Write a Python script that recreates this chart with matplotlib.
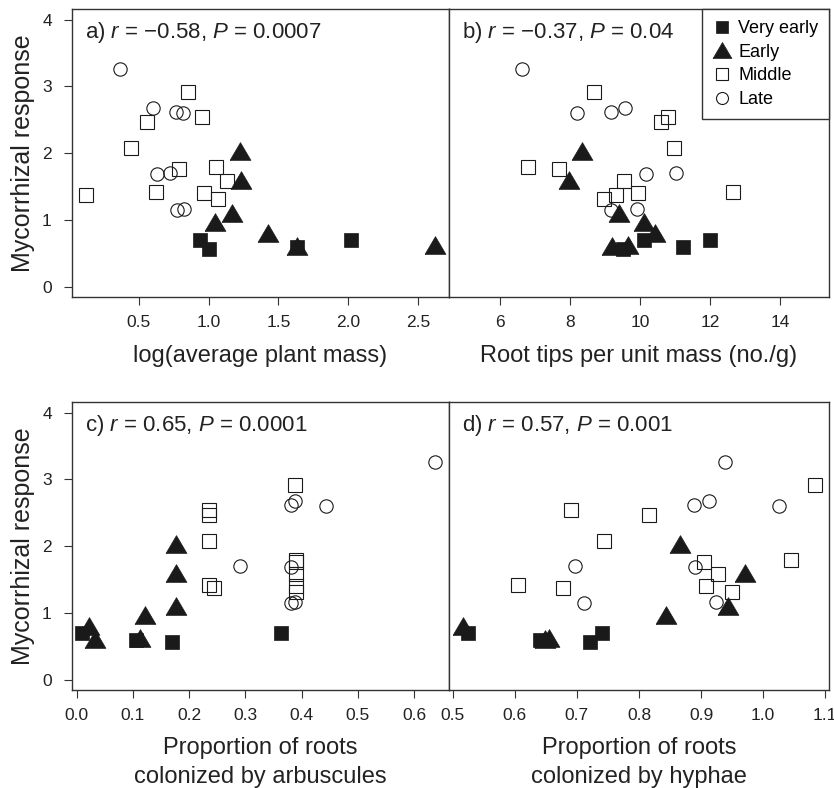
import matplotlib
matplotlib.use('Agg')
import matplotlib.pyplot as plt
from matplotlib.lines import Line2D
from matplotlib.ticker import FormatStrFormatter

plt.rcParams['font.family'] = ['Liberation Sans', 'DejaVu Sans']
plt.rcParams['mathtext.fontset'] = 'custom'
plt.rcParams['mathtext.rm'] = 'Liberation Sans'
plt.rcParams['mathtext.it'] = 'Liberation Sans:italic'

# mycorrhizal response (same for all four panels)
very_early_y = [0.70, 0.70, 0.60, 0.57]
early_y = [2.03, 1.60, 1.10, 0.97, 0.80, 0.61, 0.62]
middle_y = [2.91, 2.54, 2.46, 2.07, 1.80, 1.76, 1.58, 1.42, 1.40, 1.38, 1.32]
late_y = [3.26, 2.68, 2.61, 2.60, 1.71, 1.69, 1.17, 1.15]

# a) log(average plant mass)
very_early_mass = [0.94, 2.02, 1.63, 1.00]
early_mass = [1.224, 1.233, 1.169, 1.045, 1.426, 1.636, 2.621]
middle_mass = [0.85, 0.952, 0.559, 0.443, 1.05, 0.788, 1.131, 0.624, 0.969, 0.124, 1.069]
late_mass = [0.366, 0.605, 0.769, 0.817, 0.721, 0.631, 0.826, 0.774]

# b) root tips per unit mass
very_early_tips = [10.12, 12.0, 11.23, 9.5]
early_tips = [8.35, 7.97, 9.40, 10.11, 10.44, 9.19, 9.65]
middle_tips = [8.69, 10.81, 10.61, 10.98, 6.80, 7.68, 9.55, 12.65, 9.94, 9.31, 8.97]
late_tips = [6.62, 9.57, 9.16, 8.21, 11.02, 10.16, 9.91, 9.16]

# c) proportion colonized by arbuscules
very_early_arb = [0.010, 0.364, 0.105, 0.170]
early_arb = [0.176, 0.176, 0.176, 0.122, 0.023, 0.032, 0.112]
middle_arb = [0.388, 0.235, 0.235, 0.235, 0.390, 0.390, 0.390, 0.235, 0.390, 0.244, 0.390]
late_arb = [0.637, 0.388, 0.381, 0.444, 0.291, 0.381, 0.388, 0.381]

# d) proportion colonized by hyphae
very_early_hyph = [0.525, 0.740, 0.640, 0.721]
early_hyph = [0.866, 0.971, 0.944, 0.843, 0.517, 0.648, 0.655]
middle_hyph = [1.084, 0.690, 0.816, 0.743, 1.045, 0.904, 0.927, 0.605, 0.908, 0.677, 0.950]
late_hyph = [0.939, 0.913, 0.888, 1.025, 0.697, 0.890, 0.924, 0.711]

groups = ['Very early', 'Early', 'Middle', 'Late']
ys = [very_early_y, early_y, middle_y, late_y]

tri = [(-1, -0.85), (1, -0.85), (0, 0.85), (-1, -0.85)]
ink = '#1a1a1a'
styles = {
    'Very early': dict(marker='s', ms=9.7, mfc=ink, mec=ink, mew=0.5),
    'Early': dict(marker=tri, ms=15, mfc=ink, mec=ink, mew=0.5),
    'Middle': dict(marker='s', ms=9.5, mfc='none', mec=ink, mew=0.8),
    'Late': dict(marker='o', ms=9.6, mfc='none', mec=ink, mew=0.8),
}


def draw_panel(ax, xdata, xlim, xticks, xlabel, note, left, xpad):
    for g, xs, yv in zip(groups, xdata, ys):
        ax.plot(xs, yv, linestyle='none', **styles[g])
    ax.set_xlim(*xlim)
    ax.set_ylim(-0.155, 4.16)
    ax.set_xticks(xticks)
    ax.xaxis.set_major_formatter(FormatStrFormatter('%.1f' if xticks[1] - xticks[0] < 1 else '%d'))
    ax.tick_params(axis='both', direction='out', length=6, width=0.8,
                   labelsize=12.5, color='#333333', labelcolor='#222222')
    ax.tick_params(axis='x', pad=7)
    ax.tick_params(axis='y', pad=8.5)
    if left:
        ax.set_yticks([0, 1, 2, 3, 4])
        ax.set_ylabel('Mycorrhizal response', fontsize=18, labelpad=5, color='#222222')
    else:
        ax.set_yticks([])
    ax.set_xlabel(xlabel, fontsize=17, labelpad=xpad, color='#222222', linespacing=1.4)
    for s in ax.spines.values():
        s.set_linewidth(1.0)
        s.set_color('#333333')
    ax.text(0.034, 0.899, note, transform=ax.transAxes, fontsize=16, color='#222222',
            va='baseline', ha='left')


fig = plt.figure(figsize=(8.34, 7.88), dpi=100)
W, H = 834, 788
ax_a = fig.add_axes([72 / W, (H - 297) / H, 377 / W, 288 / H])
ax_b = fig.add_axes([449 / W, (H - 297) / H, 380 / W, 288 / H])
ax_c = fig.add_axes([72 / W, (H - 690) / H, 377 / W, 288 / H])
ax_d = fig.add_axes([449 / W, (H - 690) / H, 380 / W, 288 / H])

draw_panel(ax_a, [very_early_mass, early_mass, middle_mass, late_mass], (0.023, 2.72),
           [0.5, 1.0, 1.5, 2.0, 2.5], 'log(average plant mass)',
           'a) $r$ = \u22120.58, $P$ = 0.0007', True, 10.5)
draw_panel(ax_b, [very_early_tips, early_tips, middle_tips, late_tips], (4.54, 15.4),
           [6, 8, 10, 12, 14], 'Root tips per unit mass (no./g)',
           'b) $r$ = \u22120.37, $P$ = 0.04', False, 10.5)
draw_panel(ax_c, [very_early_arb, early_arb, middle_arb, late_arb], (-0.008, 0.662),
           [0.0, 0.1, 0.2, 0.3, 0.4, 0.5, 0.6], 'Proportion of roots\ncolonized by arbuscules',
           'c) $r$ = 0.65, $P$ = 0.0001', True, 10)
draw_panel(ax_d, [very_early_hyph, early_hyph, middle_hyph, late_hyph], (0.494, 1.106),
           [0.5, 0.6, 0.7, 0.8, 0.9, 1.0, 1.1], 'Proportion of roots\ncolonized by hyphae',
           'd) $r$ = 0.57, $P$ = 0.001', False, 10)

handles = [Line2D([], [], linestyle='none', **styles[g]) for g in groups]
leg = ax_b.legend(handles, groups, loc='upper right', bbox_to_anchor=(1, 1),
                  borderaxespad=0, fontsize=13, frameon=True, fancybox=False,
                  edgecolor='#333333', framealpha=1, handlelength=1.0,
                  handletextpad=0.4, labelspacing=0.37, borderpad=0.6, markerscale=0.9)
leg.get_frame().set_linewidth(1.0)

fig.savefig('out.png', dpi=100)
